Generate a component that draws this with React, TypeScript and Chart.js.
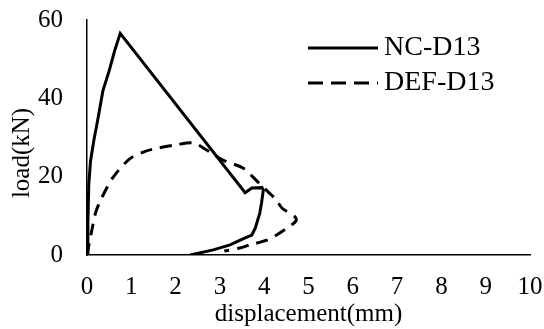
import React, { useEffect, useRef } from "react";
import { Chart, registerables } from "chart.js";

Chart.register(...registerables);

const seriesNames = ["NC-D13", "DEF-D13"];
const xTitle = "displacement(mm)";
const yTitle = "load(kN)";

const ncDisp = [0, 0.02, 0.04, 0.08, 0.15, 0.25, 0.36, 0.5, 0.62, 0.75, 3.57, 3.72, 3.95, 3.98, 3.94, 3.9, 3.8, 3.72, 3.52, 3.23, 2.85, 2.33];
const ncLoad = [0, 8, 18, 24, 29, 35, 42, 47, 52, 56.6, 15.9, 17.1, 17.2, 16.6, 13.3, 10.7, 6.9, 5.1, 4.1, 2.6, 1.3, 0];

const defDisp = [0, 0.05, 0.11, 0.2, 0.35, 0.6, 0.97, 1.3, 1.6, 2.0, 2.4, 2.7, 3.07, 3.52, 3.86, 4.1, 4.28, 4.4, 4.7, 4.72, 4.62, 4.28, 4.06, 3.68, 3.45, 3.1];
const defLoad = [0, 3, 6.4, 11, 15, 20, 24.6, 26.4, 27.3, 28.1, 28.6, 26.8, 24.2, 22.2, 18.6, 16.0, 14, 12, 9.7, 8.8, 7.7, 5.1, 3.8, 2.6, 1.8, 1.0];

const xTicks = [0, 1, 2, 3, 4, 5, 6, 7, 8, 9, 10];
const yTicks = [0, 20, 40, 60];

const FONT = "'Liberation Serif', 'Times New Roman', serif";

const overlayPlugin = {
  id: "overlayText",
  afterDraw(chart: any) {
    const ctx = chart.ctx;
    const items = [
      { label: seriesNames[0], dash: [] as number[], y: 48 },
      { label: seriesNames[1], dash: [15, 8], y: 83 },
    ];
    ctx.save();
    items.forEach((it) => {
      ctx.beginPath();
      ctx.setLineDash(it.dash);
      ctx.lineWidth = 3;
      ctx.strokeStyle = "#000";
      ctx.moveTo(308, it.y);
      ctx.lineTo(378, it.y);
      ctx.stroke();
      ctx.setLineDash([]);
      ctx.fillStyle = "#000";
      ctx.font = `28px ${FONT}`;
      ctx.textBaseline = "middle";
      ctx.textAlign = "left";
      ctx.fillText(it.label, 384, it.y);
    });
    // y axis title
    ctx.translate(22, 153);
    ctx.rotate(-Math.PI / 2);
    ctx.font = `25px ${FONT}`;
    ctx.textAlign = "center";
    ctx.textBaseline = "middle";
    ctx.fillStyle = "#000";
    ctx.fillText(yTitle, 0, 0);
    ctx.restore();
  },
};

const zeroPad = (s: any) => {
  s.paddingLeft = 0;
  s.paddingRight = 0;
  s.paddingTop = 0;
  s.paddingBottom = 0;
};

export default function App() {
  const ref = useRef<HTMLCanvasElement>(null);
  useEffect(() => {
    if (!ref.current) return;
    const chart = new Chart(ref.current, {
      type: "line",
      data: {
        datasets: [
          {
            label: seriesNames[0],
            data: ncDisp.map((x, i) => ({ x, y: ncLoad[i] })),
            borderColor: "#000",
            borderWidth: 3,
            pointRadius: 0,
            tension: 0,
            fill: false,
          },
          {
            label: seriesNames[1],
            data: defDisp.map((x, i) => ({ x, y: defLoad[i] })),
            borderColor: "#000",
            borderWidth: 3,
            borderDash: [12, 8],
            pointRadius: 0,
            tension: 0.3,
            fill: false,
          },
        ],
      },
      options: {
        animation: false,
        responsive: false,
        layout: { padding: { left: 0, right: 14, top: 20, bottom: 0 } },
        plugins: { legend: { display: false }, tooltip: { enabled: false } },
        scales: {
          x: {
            type: "linear",
            min: 0,
            max: 10,
            afterBuildTicks: (s: any) => {
              s.ticks = xTicks.map((v) => ({ value: v }));
            },
            afterFit: (s: any) => {
              s.height = 74;
              zeroPad(s);
            },
            grid: { display: false, drawTicks: false },
            border: { display: true, color: "#000", width: 1.5 },
            ticks: { color: "#000", padding: 17, maxRotation: 0, autoSkip: false, font: { family: FONT, size: 25 } },
            title: {
              display: true,
              text: xTitle,
              color: "#000",
              font: { family: FONT, size: 25 },
              padding: { top: 0, bottom: 0 },
            },
          },
          y: {
            type: "linear",
            min: 0,
            max: 60,
            afterBuildTicks: (s: any) => {
              s.ticks = yTicks.map((v) => ({ value: v }));
            },
            afterFit: (s: any) => {
              s.width = 87;
              zeroPad(s);
            },
            grid: { display: false, drawTicks: false },
            border: { display: true, color: "#000", width: 1.5 },
            ticks: { color: "#000", padding: 24, font: { family: FONT, size: 25 } },
            title: { display: false },
          },
        },
      },
      plugins: [overlayPlugin],
    });
    return () => chart.destroy();
  }, []);
  return (
    <div style={{ position: "fixed", left: 0, top: 0, width: 544, height: 329, background: "#fff" }}>
      <canvas ref={ref} width={544} height={329} style={{ width: 544, height: 329 }} />
    </div>
  );
}
